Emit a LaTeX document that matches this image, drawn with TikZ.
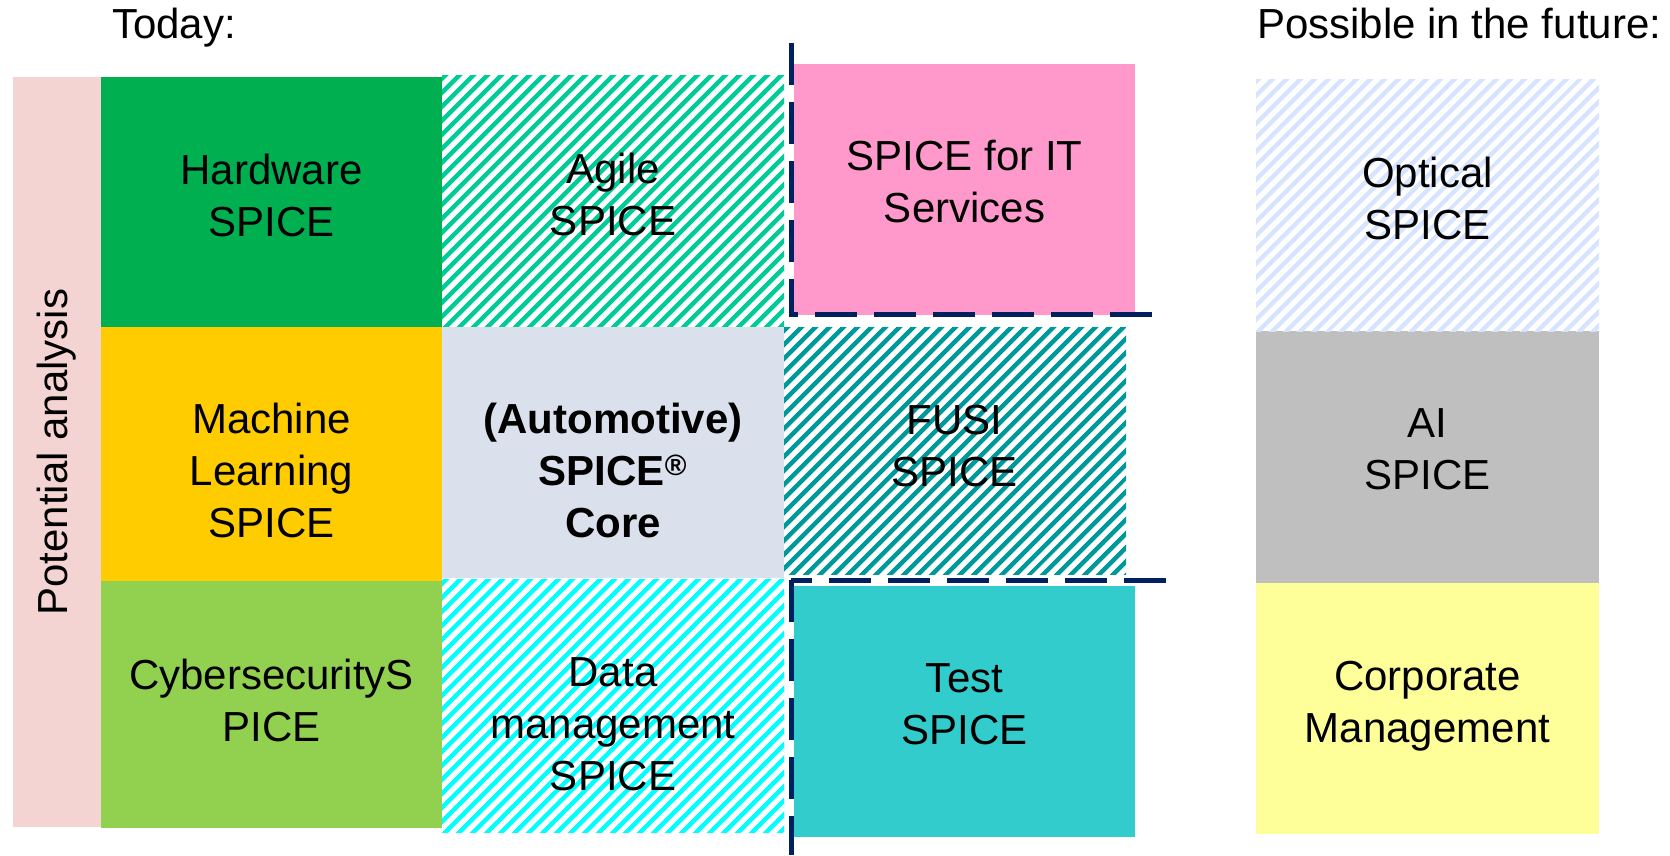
\documentclass[tikz,border=0pt]{standalone}
\usepackage{fontspec}
\setmainfont{Liberation Sans}
\usetikzlibrary{patterns.meta}

\begin{document}
\begin{tikzpicture}[x=1pt,y=-1pt,
        caja/.style={anchor=north west,inner sep=0pt,outer sep=0pt},
        texto/.style={align=center,inner sep=0pt,font=\fontsize{42}{52}\selectfont},
        rayas/.style={pattern={Lines[angle=45,distance=10.5pt,line width=5pt]},pattern color=#1},
        limite/.style={draw=azulmarino,line width=5pt,dash pattern=on 42pt off 17pt}]
        %colores
        \definecolor{rosapa}{HTML}{F4D4D3}
        \definecolor{hwverde}{HTML}{00B050}
        \definecolor{amarillo}{HTML}{FFCC00}
        \definecolor{verdeclaro}{HTML}{92D050}
        \definecolor{verdeagua}{HTML}{00CC99}
        \definecolor{grisazul}{HTML}{DAE0EC}
        \definecolor{cian}{HTML}{00FFFF}
        \definecolor{rosa}{HTML}{FF99CC}
        \definecolor{petroleo}{HTML}{009999}
        \definecolor{turquesa}{HTML}{33CCCC}
        \definecolor{azulclaro}{HTML}{D6E4FF}
        \definecolor{gris}{HTML}{BFBFBF}
        \definecolor{amarilloclaro}{HTML}{FFFF99}
        \definecolor{azulmarino}{HTML}{002060}
        \useasboundingbox (0,0) rectangle (1670,855);

        % Titulos
        \node[texto,anchor=base west] (hoy) at (112,38) {Today:};
        \node[texto,anchor=base west] (futuro) at (1257,38) {Possible in the future:};

        % Franja lateral
        \node[caja,fill=rosapa,minimum width=88,minimum height=750] (pa) at (13,77) {};
        \node[texto,rotate=90] (pa-t) at (pa.center) {Potential analysis};

        % Cajas llenas
        \foreach \n/\x/\y/\w/\h/\ty/\col/\txt in {
            hw/101/77/341/250/195/hwverde/{Hardware\\SPICE},
            ml/101/327/341/254/470/amarillo/{Machine\\Learning\\SPICE},
            cs/101/581/341/247/700/verdeclaro/{CybersecurityS\\PICE},
            it/794/64/341/251/182/rosa/{SPICE for IT\\Services},
            test/794/586/341/251/704/turquesa/{Test\\SPICE},
            ai/1256/331/343/252/449/gris/{AI\\SPICE},
            corp/1256/583/343/251/706/amarilloclaro/{Corporate\\Management}}
        {
            \node[caja,fill=\col,minimum width=\w,minimum height=\h] (\n) at (\x,\y) {};
            \node[texto] (\n-t) at ({\x+\w/2},\ty) {\txt};
        }

        % Cajas rayadas
        \foreach \n/\x/\y/\w/\h/\ty/\col/\txt in {
            agile/442/75/342/251/194/verdeagua/{Agile\\SPICE},
            data/442/579/342/253/724/cian/{Data\\management\\SPICE},
            fusi/783/327/343/247/446/petroleo/{FUSI\\SPICE},
            optical/1256/79/343/252/198/azulclaro/{Optical\\SPICE}}
        {
            \node[caja,rayas=\col,minimum width=\w,minimum height=\h] (\n) at (\x,\y) {};
            \node[texto] (\n-t) at ({\x+\w/2},\ty) {\txt};
        }

        % Nucleo
        \node[caja,fill=grisazul,minimum width=342,minimum height=251] (core) at (442,327) {};
        \node[texto,font=\fontsize{42}{52}\selectfont\bfseries] (core-t) at (613,470)
            {(Automotive)\\SPICE\textsuperscript{®}\\Core};

        % Limites discontinuos
        \draw[limite] (791,43) -- (791,314) -- (1166,314);
        \draw[limite] (1166,580) -- (791,580);
        \draw[limite] (791,580) -- (791,855);
    \end{tikzpicture}
\end{document}
